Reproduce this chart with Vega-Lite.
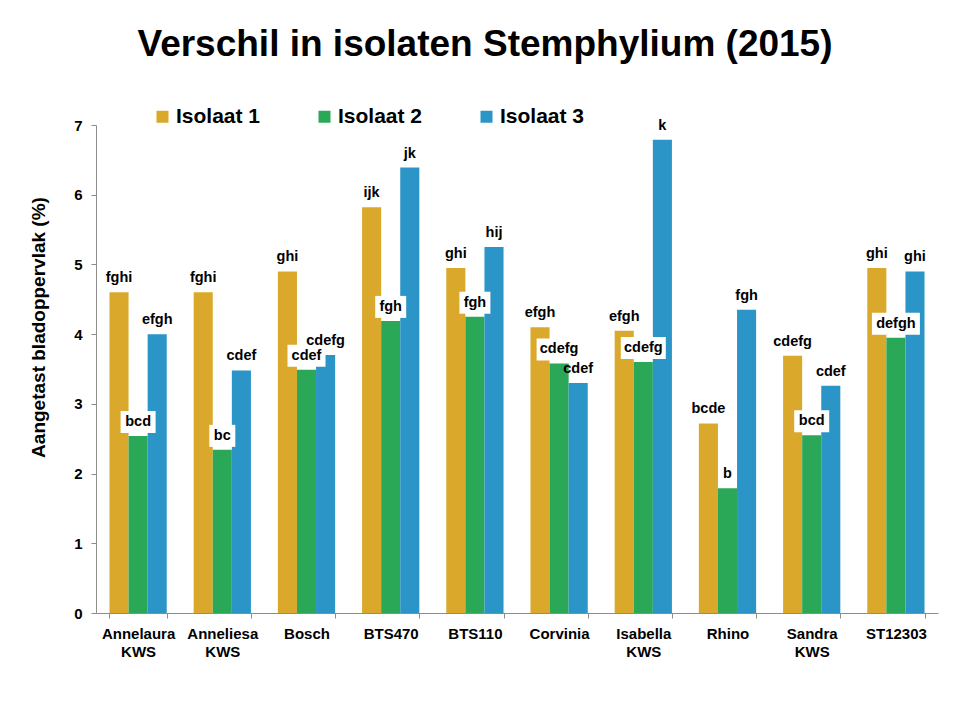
{
  "$schema": "https://vega.github.io/schema/vega-lite/v6.json",
  "width": 842,
  "height": 488,
  "autosize": {"type": "none"},
  "padding": {"left": 96, "top": 125, "right": 16, "bottom": 109},
  "background": "white",
  "config": {"font": "Liberation Sans", "view": {"stroke": null}},
  "title": {
    "text": "Verschil in isolaten Stemphylium (2015)",
    "fontSize": 37,
    "fontWeight": "bold",
    "color": "black",
    "anchor": "middle",
    "dx": -32,
    "offset": 42
  },
  "data": {
    "values": [
      {"cultivar": "Annelaura KWS", "isolaat": "Isolaat 1", "value": 4.60, "label": "fghi"},
      {"cultivar": "Annelaura KWS", "isolaat": "Isolaat 2", "value": 2.54, "label": "bcd"},
      {"cultivar": "Annelaura KWS", "isolaat": "Isolaat 3", "value": 4.00, "label": "efgh"},
      {"cultivar": "Anneliesa KWS", "isolaat": "Isolaat 1", "value": 4.60, "label": "fghi"},
      {"cultivar": "Anneliesa KWS", "isolaat": "Isolaat 2", "value": 2.34, "label": "bc"},
      {"cultivar": "Anneliesa KWS", "isolaat": "Isolaat 3", "value": 3.48, "label": "cdef"},
      {"cultivar": "Bosch", "isolaat": "Isolaat 1", "value": 4.90, "label": "ghi"},
      {"cultivar": "Bosch", "isolaat": "Isolaat 2", "value": 3.49, "label": "cdef"},
      {"cultivar": "Bosch", "isolaat": "Isolaat 3", "value": 3.70, "label": "cdefg"},
      {"cultivar": "BTS470", "isolaat": "Isolaat 1", "value": 5.82, "label": "ijk"},
      {"cultivar": "BTS470", "isolaat": "Isolaat 2", "value": 4.19, "label": "fgh"},
      {"cultivar": "BTS470", "isolaat": "Isolaat 3", "value": 6.39, "label": "jk"},
      {"cultivar": "BTS110", "isolaat": "Isolaat 1", "value": 4.95, "label": "ghi"},
      {"cultivar": "BTS110", "isolaat": "Isolaat 2", "value": 4.25, "label": "fgh"},
      {"cultivar": "BTS110", "isolaat": "Isolaat 3", "value": 5.25, "label": "hij"},
      {"cultivar": "Corvinia", "isolaat": "Isolaat 1", "value": 4.10, "label": "efgh"},
      {"cultivar": "Corvinia", "isolaat": "Isolaat 2", "value": 3.58, "label": "cdefg"},
      {"cultivar": "Corvinia", "isolaat": "Isolaat 3", "value": 3.30, "label": "cdef"},
      {"cultivar": "Isabella KWS", "isolaat": "Isolaat 1", "value": 4.05, "label": "efgh"},
      {"cultivar": "Isabella KWS", "isolaat": "Isolaat 2", "value": 3.60, "label": "cdefg"},
      {"cultivar": "Isabella KWS", "isolaat": "Isolaat 3", "value": 6.79, "label": "k"},
      {"cultivar": "Rhino", "isolaat": "Isolaat 1", "value": 2.72, "label": "bcde"},
      {"cultivar": "Rhino", "isolaat": "Isolaat 2", "value": 1.79, "label": "b"},
      {"cultivar": "Rhino", "isolaat": "Isolaat 3", "value": 4.35, "label": "fgh"},
      {"cultivar": "Sandra KWS", "isolaat": "Isolaat 1", "value": 3.69, "label": "cdefg"},
      {"cultivar": "Sandra KWS", "isolaat": "Isolaat 2", "value": 2.55, "label": "bcd"},
      {"cultivar": "Sandra KWS", "isolaat": "Isolaat 3", "value": 3.26, "label": "cdef"},
      {"cultivar": "ST12303", "isolaat": "Isolaat 1", "value": 4.95, "label": "ghi"},
      {"cultivar": "ST12303", "isolaat": "Isolaat 2", "value": 3.95, "label": "defgh"},
      {"cultivar": "ST12303", "isolaat": "Isolaat 3", "value": 4.90, "label": "ghi"}
    ]
  },
  "encoding": {
    "x": {
      "field": "cultivar",
      "type": "nominal",
      "sort": null,
      "scale": {"paddingInner": 0.32, "paddingOuter": 0.16},
      "axis": {
        "title": null,
        "labelExpr": "split(datum.label, ' ')",
        "labelFontSize": 15,
        "labelFontWeight": "bold",
        "labelColor": "black",
        "labelLineHeight": 18,
        "labelPadding": 8,
        "labelAngle": 0,
        "tickBand": "extent",
        "tickSize": 5,
        "tickColor": "#8c8c8c",
        "domainColor": "#8c8c8c"
      }
    },
    "xOffset": {
      "field": "isolaat",
      "type": "nominal",
      "scale": {"paddingInner": 0, "paddingOuter": 0}
    },
    "y": {
      "field": "value",
      "type": "quantitative",
      "scale": {"domain": [0, 7], "nice": false},
      "axis": {
        "title": "Aangetast bladoppervlak (%)",
        "values": [0, 1, 2, 3, 4, 5, 6, 7],
        "format": "d",
        "grid": false,
        "labelFontSize": 15,
        "labelFontWeight": "bold",
        "labelColor": "black",
        "labelPadding": 9,
        "tickSize": 5,
        "tickColor": "#8c8c8c",
        "domainColor": "#8c8c8c",
        "titleFontSize": 19,
        "titleFontWeight": "bold",
        "titleColor": "black",
        "titleX": -58,
        "titleY": 202,
        "titleAngle": 270,
        "titleAlign": "center",
        "titleBaseline": "middle"
      }
    }
  },
  "layer": [
    {
      "mark": {"type": "bar", "strokeWidth": 0},
      "encoding": {
        "color": {
          "field": "isolaat",
          "type": "nominal",
          "scale": {"domain": ["Isolaat 1", "Isolaat 2", "Isolaat 3"], "range": ["#DAA92B", "#2BA857", "#2B95C7"]},
          "legend": {
            "orient": "none",
            "legendX": 56,
            "legendY": -19,
            "direction": "horizontal",
            "title": null,
            "symbolType": "square",
            "symbolSize": 144,
            "symbolStrokeWidth": 0,
            "symbolOpacity": 1,
            "labelFontSize": 21,
            "labelFontWeight": "bold",
            "labelColor": "black",
            "labelOffset": 3,
            "columnPadding": 53,
            "padding": 0
          }
        }
      }
    },
    {
      "transform": [{"filter": "datum.isolaat === 'Isolaat 2'"}],
      "mark": {"type": "point", "filled": true, "color": "white", "opacity": 1, "strokeWidth": 0, "size": 10000, "yOffset": -14},
      "encoding": {
        "shape": {
          "field": "label",
          "type": "nominal",
          "legend": null,
          "scale": {
            "domain": ["b", "bc", "bcd", "fgh", "cdef", "cdefg", "defgh"],
            "range": [
              "M-0.16,-0.22H0.16V0.22H-0.16Z",
              "M-0.26,-0.22H0.26V0.22H-0.26Z",
              "M-0.35,-0.22H0.35V0.22H-0.35Z",
              "M-0.31,-0.22H0.31V0.22H-0.31Z",
              "M-0.38,-0.22H0.38V0.22H-0.38Z",
              "M-0.45,-0.22H0.45V0.22H-0.45Z",
              "M-0.48,-0.22H0.48V0.22H-0.48Z"
            ]
          }
        }
      }
    },
    {
      "mark": {"type": "text", "fontWeight": "bold", "fontSize": 14.5, "dy": -14, "baseline": "middle", "align": "center", "color": "black"},
      "encoding": {"text": {"field": "label", "type": "nominal"}}
    }
  ]
}
